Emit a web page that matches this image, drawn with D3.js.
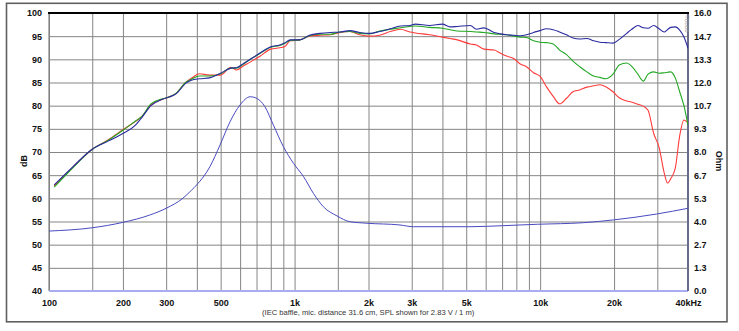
<!DOCTYPE html>
<html><head><meta charset="utf-8">
<script src="https://cdn.jsdelivr.net/npm/d3@7"></script>
<style>body{margin:0;background:#fff} svg text{font-family:"Liberation Sans",Arial,sans-serif}</style>
</head><body><svg id="c" width="739" height="331"></svg>
<script>
// ---- data ----
const splFreqs = [105,125,150,175,200,225,240,260,290,310,330,360,380,410,450,500,550,580,620,660,720,800,870,910,960,1050,1150,1270,1400,1530,1680,1840,2020,2220,2450,2700,2950,3100,3550,4000,4300,4600,5200,5500,5900,6500,6900,7300,7800,8300,8800,9400,10000,10600,11300,12000,12800,13600,14500,15500,16500,17500,18500,19800,21000,22500,23500,25000,26300,27500,29000,30500,32000,33000,34000,35500,37000,38500,40000];
const splOnAxis = [62.9,66.8,70.6,72.4,74.0,75.8,77.6,80.0,81.4,81.9,82.6,84.8,85.5,85.8,86.0,87.0,88.1,88.2,89.1,90.0,91.3,92.7,93.1,93.5,94.2,94.2,95.2,95.6,95.8,95.9,96.2,95.8,95.6,96.0,96.6,97.2,97.3,97.6,97.3,97.6,97.0,97.1,97.3,96.5,96.8,95.8,95.5,95.3,95.2,95.1,95.3,95.8,96.2,96.6,96.4,95.9,95.3,94.6,94.4,94.5,94.0,93.7,93.6,93.5,94.3,95.6,96.4,97.3,96.8,96.7,97.3,96.6,95.9,96.4,96.9,97.0,96.3,94.8,92.4];
const splOff30 = [62.4,66.6,70.6,72.6,74.7,76.7,77.8,80.4,81.5,81.9,82.7,85.0,85.7,86.4,86.4,86.9,88.1,88.1,89.0,90.0,91.2,92.6,93.0,93.4,94.1,94.2,95.1,95.4,95.4,95.9,96.0,95.6,95.5,96.1,96.5,96.8,97.1,97.2,96.9,96.7,96.4,96.1,96.0,95.9,95.8,95.5,95.4,95.3,95.0,94.8,94.7,94.0,93.7,93.6,93.3,92.0,91.0,89.6,88.4,87.3,86.4,86.1,85.8,86.8,88.8,89.2,88.6,86.8,85.3,86.8,87.3,87.0,87.1,87.2,87.3,86.0,83.0,80.0,75.8];
const splOff60 = [62.7,66.7,70.6,72.7,74.8,76.6,77.8,80.2,81.4,81.9,82.7,85.0,85.9,86.9,86.6,86.6,88.3,87.7,88.6,89.4,90.6,92.2,92.5,92.7,94.0,94.2,95.0,95.2,95.3,95.8,96.0,95.3,95.0,95.2,96.0,96.5,95.9,95.7,95.3,94.8,94.5,94.2,93.3,93.1,92.2,92.0,91.3,90.7,90.2,89.0,88.4,87.1,86.3,84.1,82.0,80.4,81.6,83.0,83.4,84.0,84.3,84.5,84.1,83.0,81.7,81.0,80.8,80.3,79.9,79.0,74.0,71.0,65.5,63.3,64.2,66.5,73.5,76.9,76.3];
const impFreqs = [100,150,200,257,300,351,381,399,452,497,546,599,660,701,757,820,900,990,1088,1193,1310,1489,1678,1970,2687,3046,3800,5178,7060,9750,14980,19850,29800,40000];
const impOhm = [3.45,3.64,3.95,4.37,4.76,5.34,5.81,6.10,7.15,8.40,9.74,10.70,11.18,11.09,10.61,9.55,8.31,7.35,6.58,5.62,4.85,4.32,3.99,3.90,3.80,3.70,3.70,3.70,3.76,3.84,3.93,4.09,4.43,4.76];
const xGridFreqs = [100,150,200,300,400,500,600,700,800,900,1000,1500,2000,3000,4000,5000,6000,7000,8000,9000,10000,20000,30000,40000];
const xLabelFreqs = [100,200,300,500,1000,2000,3000,5000,10000,20000,40000];
const xLabelTexts = ["100","200","300","500","1k","2k","3k","5k","10k","20k","40kHz"];
const dbTicks = [40,45,50,55,60,65,70,75,80,85,90,95,100];
const ohmTickLabels = ["0.0","1.3","2.7","4.0","5.3","6.7","8.0","9.3","10.7","12.0","13.3","14.7","16.0"];
const caption = "(IEC baffle, mic. distance 31.6 cm, SPL shown for 2.83 V / 1 m)";

// ---- layout ----
const L = 49, R = 688, T = 13, B = 291;
const svg = d3.select("#c");
svg.append("rect").attr("x",6.5).attr("y",3.3).attr("width",720.5).attr("height",318.5)
  .attr("fill","#fff").attr("stroke","#606060").attr("stroke-width",1.6);

const x = d3.scaleLog().domain([100,40000]).range([L,R]);
const y = d3.scaleLinear().domain([40,100]).range([B,T]);
const yR = d3.scaleLinear().domain([0,16]).range([B,T]);

// grid
const gx = svg.append("g").attr("transform",`translate(0,${B})`)
  .call(d3.axisBottom(x).tickValues(xGridFreqs).tickSize(-(B-T)).tickFormat(""));
gx.select(".domain").remove();
gx.selectAll(".tick line").attr("stroke","#858585").attr("stroke-width",1);
const gy = svg.append("g").attr("transform",`translate(${L},0)`)
  .call(d3.axisLeft(y).tickValues(dbTicks).tickSize(-(R-L)).tickFormat(""));
gy.select(".domain").remove();
gy.selectAll(".tick line").attr("stroke","#858585").attr("stroke-width",1);

// frame lines
svg.append("line").attr("x1",L).attr("x2",L).attr("y1",T).attr("y2",B).attr("stroke","#808080").attr("stroke-width",1.2);
svg.append("line").attr("x1",L).attr("x2",R).attr("y1",B).attr("y2",B).attr("stroke","#a8acf0").attr("stroke-width",2);
svg.append("line").attr("x1",R).attr("x2",R).attr("y1",T).attr("y2",B).attr("stroke","#6a6a8a").attr("stroke-width",2);
svg.append("line").attr("x1",L-1).attr("x2",R+1).attr("y1",T).attr("y2",T).attr("stroke","#000").attr("stroke-width",2.2);

// watermark
svg.append("text").attr("transform",`translate(${R-3},${T+2}) rotate(90)`)
  .attr("font-size",5).attr("fill","#999").text("©DDBB");

// curves
const clip = svg.append("clipPath").attr("id","pc").append("rect").attr("x",L).attr("y",T).attr("width",R-L).attr("height",B-T);
const lineSpl = vals => d3.line().x((d,i)=>x(splFreqs[i])).y(d=>y(d)).curve(d3.curveMonotoneX)(vals);
const plot = svg.append("g").attr("clip-path","url(#pc)");
plot.append("path").attr("d",d3.line().x((d,i)=>x(impFreqs[i])).y(d=>yR(d)).curve(d3.curveMonotoneX)(impOhm))
  .attr("fill","none").attr("stroke","#4a4ac0").attr("stroke-width",1);
plot.append("path").attr("d",lineSpl(splOff60)).attr("fill","none").attr("stroke","#ff3b3b").attr("stroke-width",1.1);
plot.append("path").attr("d",lineSpl(splOff30)).attr("fill","none").attr("stroke","#22a822").attr("stroke-width",1.1);
plot.append("path").attr("d",lineSpl(splOnAxis)).attr("fill","none").attr("stroke","#2a2aa0").attr("stroke-width",1.1);

// axes labels
const ax = svg.append("g").attr("transform",`translate(0,${B})`)
  .call(d3.axisBottom(x).tickValues(xLabelFreqs).tickSize(0).tickPadding(9)
    .tickFormat(d=>xLabelTexts[xLabelFreqs.indexOf(d)]));
ax.select(".domain").remove();
ax.selectAll("text").attr("font-size",9).attr("font-weight","bold").attr("fill","#111").style("font-family",'"Liberation Sans",Arial,sans-serif');

const al = svg.append("g").attr("transform",`translate(${L},0)`)
  .call(d3.axisLeft(y).tickValues(dbTicks).tickSize(0).tickPadding(7));
al.select(".domain").remove();
al.selectAll("text").attr("font-size",9).attr("font-weight","bold").attr("fill","#111").style("font-family",'"Liberation Sans",Arial,sans-serif');

const ohmVals = ohmTickLabels.map((s,i)=>i*16/12);
const ar = svg.append("g").attr("transform",`translate(${R},0)`)
  .call(d3.axisRight(yR).tickValues(ohmVals).tickSize(0).tickPadding(6)
    .tickFormat((d,i)=>ohmTickLabels[i]));
ar.select(".domain").remove();
ar.selectAll("text").attr("font-size",9).attr("font-weight","bold").attr("fill","#111").style("font-family",'"Liberation Sans",Arial,sans-serif');

svg.append("text").attr("transform","translate(27,161) rotate(-90)").attr("text-anchor","middle")
  .attr("font-size",9).attr("font-weight","bold").attr("fill","#111").text("dB");
svg.append("text").attr("transform","translate(716,161) rotate(90)").attr("text-anchor","middle")
  .attr("font-size",9).attr("font-weight","bold").attr("fill","#111").text("Ohm");
svg.append("text").attr("x",262).attr("y",315).attr("font-size",7.6).attr("fill","#333").text(caption);
</script></body></html>
